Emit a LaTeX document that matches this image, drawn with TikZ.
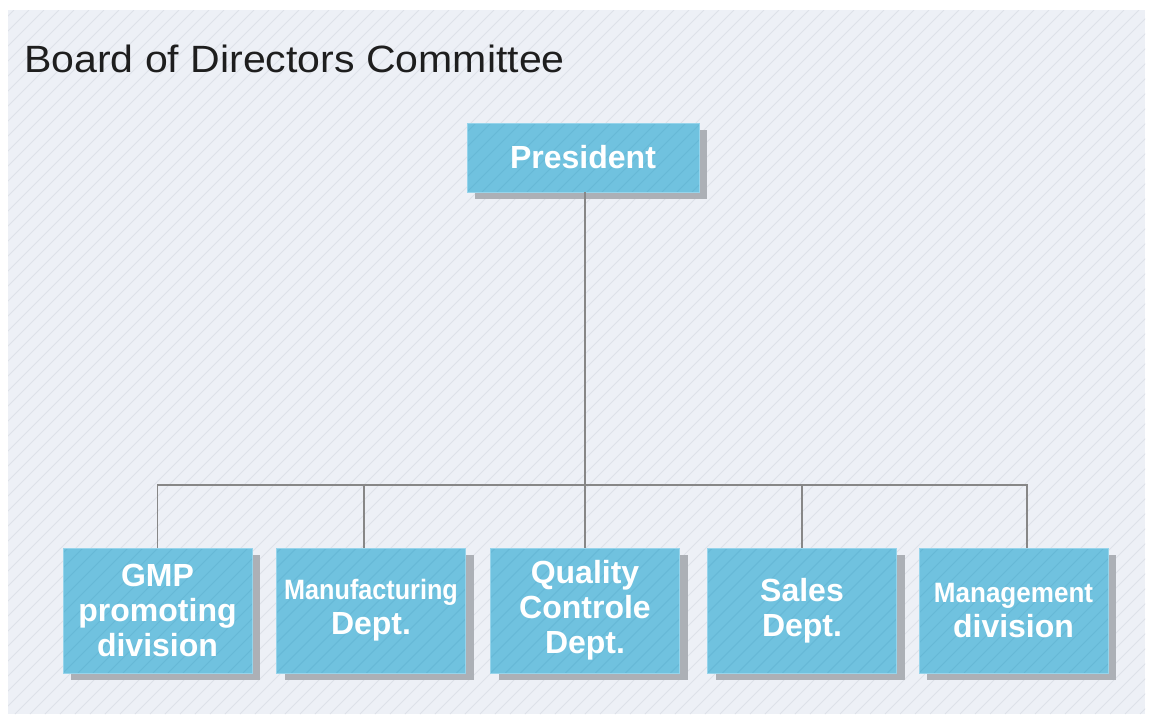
\documentclass[tikz,border=0pt]{standalone}
\usepackage{fontspec}
\setmainfont{Liberation Sans}
\usetikzlibrary{shadows}
\definecolor{panelbg}{RGB}{237,240,246}
\definecolor{hatchc}{RGB}{221,225,233}
\definecolor{boxfill}{RGB}{112,194,223}
\definecolor{boxstripe}{RGB}{102,184,214}
\definecolor{boxedge}{RGB}{150,212,235}
\definecolor{linec}{RGB}{135,135,135}
\definecolor{shadowc}{RGB}{172,176,182}
\definecolor{titlec}{RGB}{30,30,30}
\begin{document}
\begin{tikzpicture}[x=1pt,y=-1pt,
  orgbox/.style={draw=boxedge, line width=0.8pt, fill=boxfill, text=white, align=center, inner sep=0pt,
    font=\fontsize{32}{35}\selectfont\bfseries,
    drop shadow={shadow xshift=8pt, shadow yshift=-7pt, fill=shadowc, opacity=1},
    path picture={\foreach \k in {-20,...,30} \draw[boxstripe, line width=0.8pt] ([xshift=\k*15pt]path picture bounding box.south west) -- ++(250pt,250pt);}},
  cellbox/.style={orgbox, minimum width=189pt, minimum height=125pt},
  conn/.style={draw=linec, line width=1.6pt},
  narrowtext/.style={}
]
% background
\fill[white] (0,0) rectangle (1150,718);
\fill[panelbg] (8,10) rectangle (1145,714);
\begin{scope}
\clip (8,10) rectangle (1145,714);
\foreach \i in {-720,-705,...,1150} \draw[hatchc, line width=1pt] (\i,714) -- (\i+704,10);
\end{scope}
% title
\node[anchor=base west, text=titlec, font=\fontsize{38}{40}\selectfont, inner sep=0pt] (title) at (24,72) {\scalebox{1.08}[1]{Board of Directors Committee}};
% boxes
\node[orgbox, minimum width=232pt, minimum height=69pt] (pres) at (583,157.5) {President};
\node[cellbox] (gmp) at (157.5,610.5) {GMP\\promoting\\division};
\node[cellbox] (mfg) at (371,610.5) {{\fontsize{28}{35}\selectfont\scalebox{0.9}[1]{Manufacturing}}\\Dept.};
\node[cellbox] (qc) at (585,610.5) {Quality\\Controle\\Dept.};
\node[cellbox] (sales) at (802,610.5) {Sales\\Dept.};
\node[cellbox] (mgmt) at (1013.5,610.5) {{\fontsize{28}{35}\selectfont\scalebox{0.93}[1]{Management}}\\division};
% connectors
\coordinate (bus) at (585,485);
\draw[conn] (pres.south -| bus) -- (bus);
\draw[conn] (bus) -| (gmp.north);
\draw[conn] (bus) -| ([xshift=-7pt]mfg.north);
\draw[conn] (bus) -- (qc.north);
\draw[conn] (bus) -| (sales.north);
\draw[conn] (bus) -| ([xshift=13.5pt]mgmt.north);
\end{tikzpicture}
\end{document}
